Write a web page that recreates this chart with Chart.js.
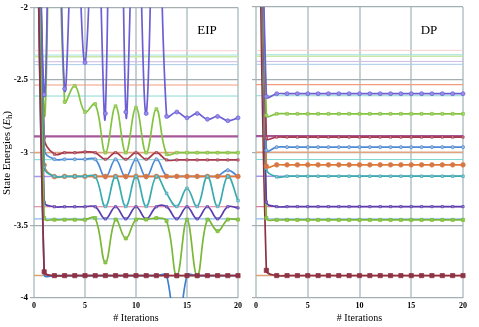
<!DOCTYPE html>
<html>
<head>
<meta charset="utf-8">
<script src="https://cdn.jsdelivr.net/npm/chart.js@4.4.1/dist/chart.umd.min.js"></script>
<style>
  body { margin: 0; background: #fff; }
  #wrap { position: relative; width: 479px; height: 327px; }
  canvas { position: absolute; top: 0; }
  #eip { left: 0; }
  #dp { left: 245px; }
</style>
</head>
<body>
<div id="wrap">
  <canvas id="eip" width="245" height="327"></canvas>
  <canvas id="dp" width="234" height="327"></canvas>
</div>
<script>
// iterations on the x axis
var iterations = [0, 1, 2, 3, 4, 5, 6, 7, 8, 9, 10, 11, 12, 13, 14, 15, 16, 17, 18, 19, 20];
var yTicks = [-4, -3.5, -3, -2.5, -2];

// exact state energies (thin horizontal reference lines)
var refEnergies = [-2.298, -2.328, -2.339, -2.374, -2.394, -2.534, -2.61, -2.888, -2.998, -3.048, -3.163, -3.372, -3.456, -3.846];
var refColors = ['#f9cfd0', '#a6e3df', '#c9e7a6', '#cdb9e3', '#a9cbe9', '#f39c7c', '#8ad9d2', '#a6579c', '#e2a27c', '#7fd6cf', '#a897e6', '#de7a9a', '#8cbbe9', '#d9a274'];
var refWidths = [1, 1, 1.5, 1, 1, 1.2, 1, 2.2, 1.5, 1, 1.5, 1.2, 1.2, 1.5];

// EIP runs
var eipPurple = [2, -2.6, 0.5, -2.56, -1.2, -2.38, -1.0, -2.73, 3, -2.72, -1.0, -2.73, -0.5, -2.75, -2.72, -2.76, -2.73, -2.77, -2.75, -2.78, -2.76];
var eipGreen = [2, -2.73, 0, -2.65, -2.54, -2.72, -2.665, -3.0, -2.68, -3.0, -2.69, -3.0, -2.7, -3.01, -3.0, -3.0, -3.0, -3.0, -3.0, -3.0, -3.0];
var eipMaroon = [2, -2.9, -3.01, -3.0, -3.0, -2.995, -3.0, -3.045, -3.0, -3.045, -3.0, -3.045, -3.0, -3.05, -3.05, -3.05, -3.05, -3.05, -3.05, -3.05, -3.05];
var eipBlue = [2, -2.98, -3.045, -3.045, -3.045, -3.045, -3.045, -3.17, -3.045, -3.17, -3.045, -3.17, -3.045, -3.16, -3.163, -3.163, -3.163, -3.163, -3.16, -3.12, -3.163];
var eipOrange = [2, -3.085, -3.165, -3.163, -3.163, -3.163, -3.163, -3.163, -3.163, -3.163, -3.163, -3.163, -3.163, -3.163, -3.163, -3.163, -3.163, -3.163, -3.163, -3.163, -3.163];
var eipTeal = [2, -3.1, -3.163, -3.163, -3.163, -3.163, -3.163, -3.37, -3.163, -3.37, -3.163, -3.37, -3.163, -3.28, -3.37, -3.245, -3.37, -3.163, -3.37, -3.163, -3.33];
var eipIndigo = [2, -3.34, -3.372, -3.372, -3.372, -3.372, -3.372, -3.456, -3.372, -3.456, -3.372, -3.456, -3.372, -3.372, -3.456, -3.372, -3.456, -3.372, -3.456, -3.372, -3.38];
var eipGreen2 = [2, -3.45, -3.461, -3.461, -3.461, -3.461, -3.45, -3.755, -3.46, -3.59, -3.46, -3.46, -3.45, -3.47, -3.85, -3.46, -3.85, -3.46, -3.54, -3.46, -3.46];
var eipSquares = [1, -3.82, -3.846, -3.846, -3.846, -3.846, -3.846, -3.846, -3.846, -3.846, -3.846, -3.846, -3.846, -3.846, -3.846, -3.846, -3.846, -3.846, -3.846, -3.846, -3.846];
var eipBlue2 = [1, -3.84, -3.846, -3.846, -3.846, -3.846, -3.846, -3.846, -3.846, -3.846, -3.846, -3.846, -3.846, -3.846, -4.35, -3.846, -3.846, -3.846, -3.846, -3.846, -3.846];

// DP runs
var dpPurple = [2, -2.615, -2.596, -2.596, -2.596, -2.596, -2.596, -2.596, -2.596, -2.596, -2.596, -2.596, -2.596, -2.596, -2.596, -2.596, -2.596, -2.596, -2.596, -2.596, -2.596];
var dpGreen = [2, -2.745, -2.734, -2.734, -2.734, -2.734, -2.734, -2.734, -2.734, -2.734, -2.734, -2.734, -2.734, -2.734, -2.734, -2.734, -2.734, -2.734, -2.734, -2.734, -2.734];
var dpMaroon = [2, -2.9, -2.894, -2.894, -2.894, -2.894, -2.894, -2.894, -2.894, -2.894, -2.894, -2.894, -2.894, -2.894, -2.894, -2.894, -2.894, -2.894, -2.894, -2.894, -2.894];
var dpBlue = [2, -2.985, -2.963, -2.963, -2.963, -2.963, -2.963, -2.963, -2.963, -2.963, -2.963, -2.963, -2.963, -2.963, -2.963, -2.963, -2.963, -2.963, -2.963, -2.963, -2.963];
var dpOrange = [2, -3.094, -3.085, -3.085, -3.085, -3.085, -3.085, -3.085, -3.085, -3.085, -3.085, -3.085, -3.085, -3.085, -3.085, -3.085, -3.085, -3.085, -3.085, -3.085, -3.085];
var dpTeal = [2, -3.11, -3.168, -3.163, -3.163, -3.163, -3.163, -3.163, -3.163, -3.163, -3.163, -3.163, -3.163, -3.163, -3.163, -3.163, -3.163, -3.163, -3.163, -3.163, -3.163];
var dpIndigo = [2, -3.34, -3.372, -3.372, -3.372, -3.372, -3.372, -3.372, -3.372, -3.372, -3.372, -3.372, -3.372, -3.372, -3.372, -3.372, -3.372, -3.372, -3.372, -3.372, -3.372];
var dpGreen2 = [2, -3.45, -3.463, -3.463, -3.463, -3.463, -3.463, -3.463, -3.463, -3.463, -3.463, -3.463, -3.463, -3.463, -3.463, -3.463, -3.463, -3.463, -3.463, -3.463, -3.463];
var dpSquares = [1, -3.81, -3.846, -3.846, -3.846, -3.846, -3.846, -3.846, -3.846, -3.846, -3.846, -3.846, -3.846, -3.846, -3.846, -3.846, -3.846, -3.846, -3.846, -3.846, -3.846];

// line / marker looks
var stPurple  = { color: '#6c5fd3', fill: '#968de8', shape: 'circle', r: 2 };
var stGreen   = { color: '#84c341', fill: '#a8d46c', shape: 'rect', r: 2 };
var stMaroon  = { color: '#a8384c', fill: '#c48e9a', shape: 'rect', r: 1.6 };
var stBlue    = { color: '#4a8ad8', fill: '#a8b8cc', shape: 'circle', r: 1.6 };
var stOrange  = { color: '#e07a34', fill: '#d27650', shape: 'circle', r: 2.3 };
var stTeal    = { color: '#3aacb0', fill: '#9cc4d8', shape: 'rect', r: 1.8 };
var stIndigo  = { color: '#5a3cb0', fill: '#9a90c8', shape: 'rect', r: 1.6 };
var stGreen2  = { color: '#7ab838', fill: '#8cc850', shape: 'rect', r: 2.2 };
var stSquares = { color: '#8e2f42', fill: '#8e3346', shape: 'rect', r: 3 };
var stBlue2   = { color: '#3f7fd2', fill: '#3f7fd2', shape: 'circle', r: 0 };

var serif = "'Liberation Serif', 'Times New Roman', serif";

function series(vals, st) {
  return {
    data: iterations.map(function (x, i) { return { x: x, y: vals[i] }; }),
    borderColor: st.color,
    borderWidth: 1.7,
    tension: 0.4,
    pointStyle: st.shape,
    pointRadius: st.r,
    pointBackgroundColor: st.fill,
    pointBorderColor: st.color,
    pointBorderWidth: 0.7,
    clip: { left: 4, right: 4, top: 0, bottom: 0 }
  };
}

function refLines() {
  var first = iterations[0], last = iterations[iterations.length - 1];
  return refEnergies.map(function (e, i) {
    return {
      data: [{ x: first, y: e }, { x: last, y: e }],
      borderColor: refColors[i],
      borderWidth: refWidths[i],
      pointRadius: 0,
      tension: 0
    };
  });
}

var panelText = {
  id: 'panelText',
  afterDraw: function (chart, args, opts) {
    var ctx = chart.ctx;
    ctx.save();
    ctx.fillStyle = '#000';
    ctx.textAlign = 'center';
    ctx.textBaseline = 'middle';
    ctx.font = '13px ' + serif;
    ctx.fillText(opts.label, opts.labelX, opts.labelY);
    if (opts.yTitle) {
      ctx.translate(7, 153);
      ctx.rotate(-Math.PI / 2);
      ctx.textAlign = 'left';
      var big = '11px ' + serif, ital = 'italic 11px ' + serif, small = '8px ' + serif;
      var parts = [['State Energies (', big, 0], ['E', ital, 0], ['h', small, 3], [')', big, 0]];
      var total = 0;
      parts.forEach(function (p) { ctx.font = p[1]; total += ctx.measureText(p[0]).width; });
      var x = -total / 2;
      parts.forEach(function (p) {
        ctx.font = p[1];
        ctx.fillText(p[0], x, p[2]);
        x += ctx.measureText(p[0]).width;
      });
    }
    ctx.restore();
  }
};

function makeChart(id, sets, showY, yWidth, padRight, label, labelX) {
  return new Chart(document.getElementById(id), {
    type: 'line',
    data: { datasets: sets.concat(refLines()) },
    plugins: [panelText],
    options: {
      responsive: false,
      animation: false,
      devicePixelRatio: 1,
      layout: { padding: { left: 0, right: padRight, top: 7, bottom: 0 } },
      plugins: {
        legend: { display: false },
        tooltip: { enabled: false },
        panelText: { label: label, labelX: labelX, labelY: 31, yTitle: showY }
      },
      scales: {
        x: {
          type: 'linear', min: 0, max: 20,
          ticks: { stepSize: 5, color: '#000', padding: 3, maxRotation: 0,
                   font: { family: serif, size: 8, weight: 'bold' } },
          grid: { color: '#c6d1d4', lineWidth: 2, drawTicks: false },
          border: { display: false },
          title: { display: true, text: '# Iterations', color: '#000',
                   font: { family: serif, size: 10 }, padding: { top: 0, bottom: 3 } },
          afterFit: function (s) { s.height = 29; }
        },
        y: {
          type: 'linear', min: yTicks[0], max: yTicks[yTicks.length - 1],
          afterBuildTicks: function (s) { s.ticks = yTicks.map(function (v) { return { value: v }; }); },
          ticks: { display: showY, color: '#000', padding: 2,
                   font: { family: serif, size: 9, weight: 'bold' },
                   callback: function (v) { return String(v); } },
          grid: { color: '#a3afb0', lineWidth: 1.2, tickLength: 4 },
          border: { display: false },
          afterFit: function (s) { s.width = yWidth; }
        }
      }
    }
  });
}

makeChart('eip', [
  series(eipPurple, stPurple),
  series(eipSquares, stSquares),
  series(eipBlue2, stBlue2),
  series(eipGreen2, stGreen2),
  series(eipIndigo, stIndigo),
  series(eipTeal, stTeal),
  series(eipOrange, stOrange),
  series(eipBlue, stBlue),
  series(eipMaroon, stMaroon),
  series(eipGreen, stGreen)
], true, 34, 5, 'EIP', 207);

makeChart('dp', [
  series(dpPurple, stPurple),
  series(dpGreen, stGreen),
  series(dpMaroon, stMaroon),
  series(dpBlue, stBlue),
  series(dpOrange, stOrange),
  series(dpTeal, stTeal),
  series(dpIndigo, stIndigo),
  series(dpGreen2, stGreen2),
  series(dpSquares, stSquares)
], false, 11, 16, 'DP', 184);
</script>
</body>
</html>
